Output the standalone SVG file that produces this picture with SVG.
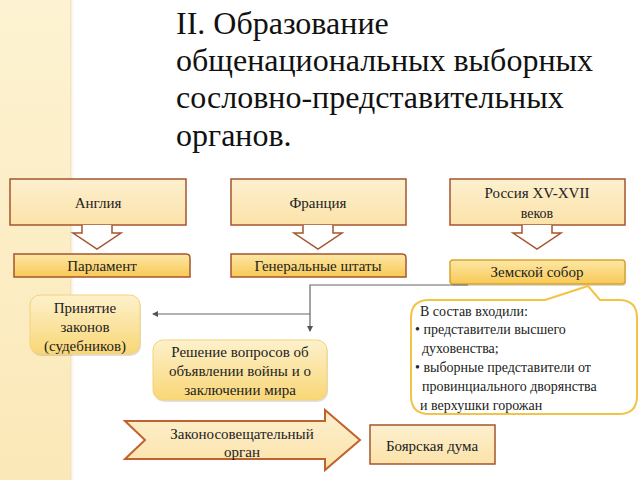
<svg xmlns="http://www.w3.org/2000/svg" width="640" height="480" viewBox="0 0 640 480">
<defs>
<linearGradient id="strip" x1="0" y1="0" x2="0" y2="1">
<stop offset="0" stop-color="#fdf3d2"/><stop offset="1" stop-color="#fbe8b8"/>
</linearGradient>
<linearGradient id="stripShade" x1="0" y1="0" x2="1" y2="0">
<stop offset="0" stop-color="#e8d6a6" stop-opacity="0.8"/><stop offset="1" stop-color="#ffffff" stop-opacity="0"/>
</linearGradient>
<linearGradient id="gold" x1="0" y1="0" x2="0" y2="1">
<stop offset="0" stop-color="#fde7a6"/><stop offset="1" stop-color="#f8c955"/>
</linearGradient>
<linearGradient id="soft" x1="0" y1="0" x2="0" y2="1">
<stop offset="0" stop-color="#fdf1cc"/><stop offset="1" stop-color="#f9d776"/>
</linearGradient>
<linearGradient id="light" x1="0" y1="0" x2="0" y2="1">
<stop offset="0" stop-color="#fdf0cf"/><stop offset="1" stop-color="#fbe2a8"/>
</linearGradient>
<marker id="ah" viewBox="0 0 6 6" refX="5" refY="3" markerWidth="6" markerHeight="6" orient="auto" markerUnits="userSpaceOnUse">
<path d="M0,0 L6,3 L0,6 z" fill="#555"/>
</marker>
</defs>
<rect x="0" y="0" width="640" height="480" fill="#fff"/>
<rect x="0" y="0" width="70" height="480" fill="url(#strip)"/>
<rect x="70" y="0" width="5" height="480" fill="url(#stripShade)"/>

<g id="title" fill="#111">
<text font-family="Liberation Serif" font-size="32" x="176" y="34">II. Образование</text>
<text font-family="Liberation Serif" font-size="32" x="176" y="71">общенациональных выборных</text>
<text font-family="Liberation Serif" font-size="32" x="176" y="108">сословно-представительных</text>
<text font-family="Liberation Serif" font-size="32" x="176" y="146">органов.</text>
</g>

<g id="england">
<rect x="10" y="179" width="176" height="46" fill="url(#light)" stroke="#a4552e" stroke-width="1.5"/>
<text font-family="Liberation Serif" font-size="15" fill="#222" text-anchor="middle" x="98" y="208">Англия</text>
<path d="M82,225 L82,233 L73,233 L97,249 L121,233 L112,233 L112,225" fill="#fff" stroke="#a4552e" stroke-width="1.5"/>
</g>
<g id="parliament">
<path d="M14,254 H186 Q190,254 190,258 V277 H14 Z" fill="url(#gold)" stroke="#a4552e" stroke-width="1.5"/>
<text font-family="Liberation Serif" font-size="15" fill="#222" text-anchor="middle" x="102" y="271">Парламент</text>
</g>

<g id="france">
<rect x="231" y="179" width="175" height="46" fill="url(#light)" stroke="#a4552e" stroke-width="1.5"/>
<text font-family="Liberation Serif" font-size="15" fill="#222" text-anchor="middle" x="318" y="208">Франция</text>
<path d="M303,225 L303,233 L294,233 L318,249 L342,233 L333,233 L333,225" fill="#fff" stroke="#a4552e" stroke-width="1.5"/>
</g>
<g id="estates">
<path d="M231,254 H402 Q406,254 406,258 V277 H231 Z" fill="url(#gold)" stroke="#a4552e" stroke-width="1.5"/>
<text font-family="Liberation Serif" font-size="15" fill="#222" text-anchor="middle" x="318" y="271">Генеральные штаты</text>
</g>

<g id="russia">
<rect x="450" y="179" width="175" height="46" fill="url(#light)" stroke="#a4552e" stroke-width="1.5"/>
<text font-family="Liberation Serif" font-size="15" fill="#222" text-anchor="middle" x="537" y="198">Россия XV-XVII</text>
<text font-family="Liberation Serif" font-size="14" fill="#222" text-anchor="middle" x="537" y="218">веков</text>
<path d="M522,225 L522,233 L513,233 L537,249 L561,233 L552,233 L552,225" fill="#fff" stroke="#a4552e" stroke-width="1.5"/>
</g>
<g id="zemsky">
<rect x="451" y="262" width="175" height="24" rx="3" fill="#000" opacity="0.15"/>
<rect x="450" y="260" width="175" height="24" rx="3" fill="url(#gold)" stroke="#d9a42c" stroke-width="1.5"/>
<text font-family="Liberation Serif" font-size="15" fill="#222" text-anchor="middle" x="537" y="277">Земской собор</text>
</g>

<g id="connectors" fill="none" stroke="#666" stroke-width="1.2">
<path d="M468,285 H310 V331" marker-end="url(#ah)"/>
<path d="M310,314 H153" marker-end="url(#ah)"/>
</g>

<g id="laws">
<rect x="31" y="297" width="110" height="59" rx="10" fill="#000" opacity="0.12"/>
<rect x="30" y="295" width="110" height="59" rx="10" fill="url(#soft)" stroke="#f3d27a" stroke-width="1"/>
<text font-family="Liberation Serif" font-size="15" fill="#222" text-anchor="middle" x="85" y="313">Принятие</text>
<text font-family="Liberation Serif" font-size="15" fill="#222" text-anchor="middle" x="85" y="332">законов</text>
<text font-family="Liberation Serif" font-size="15" fill="#222" text-anchor="middle" x="85" y="351">(судебников)</text>
</g>

<g id="war">
<rect x="154" y="342" width="174" height="60" rx="10" fill="#000" opacity="0.12"/>
<rect x="153" y="340" width="174" height="60" rx="10" fill="url(#soft)" stroke="#f3d27a" stroke-width="1"/>
<text font-family="Liberation Serif" font-size="15" fill="#222" text-anchor="middle" x="240" y="357">Решение вопросов об</text>
<text font-family="Liberation Serif" font-size="15" fill="#222" text-anchor="middle" x="240" y="376">объявлении войны и о</text>
<text font-family="Liberation Serif" font-size="15" fill="#222" text-anchor="middle" x="240" y="395">заключении мира</text>
</g>

<g id="advisory">
<path d="M125,421 H325 V410 L360,440 L325,470 V459 H125 L145,440 Z" fill="url(#light)" stroke="#c0622c" stroke-width="2"/>
<text font-family="Liberation Serif" font-size="15" fill="#222" text-anchor="middle" x="242" y="439">Законосовещательный</text>
<text font-family="Liberation Serif" font-size="15" fill="#222" text-anchor="middle" x="242" y="457">орган</text>
</g>

<g id="duma">
<rect x="370" y="425" width="125" height="39" fill="url(#light)" stroke="#a4552e" stroke-width="1.5"/>
<text font-family="Liberation Serif" font-size="15" fill="#222" text-anchor="middle" x="432" y="451">Боярская дума</text>
</g>

<g id="callout">
<path d="M429,300 H545 L588,286 L600,300 H619 Q637,300 637,318 V396 Q637,414 619,414 H429 Q411,414 411,396 V318 Q411,300 429,300 Z" fill="#fff" stroke="#f2c345" stroke-width="2"/>
<text font-family="Liberation Serif" font-size="14" fill="#222" x="420" y="316">В состав входили:</text>
<text font-family="Liberation Serif" font-size="14" fill="#222" x="415" y="334">• представители высшего</text>
<text font-family="Liberation Serif" font-size="14" fill="#222" x="422" y="353">духовенства;</text>
<text font-family="Liberation Serif" font-size="14" fill="#222" x="415" y="372">• выборные представители от</text>
<text font-family="Liberation Serif" font-size="14" fill="#222" x="422" y="391">провинциального дворянства</text>
<text font-family="Liberation Serif" font-size="14" fill="#222" x="420" y="410">и верхушки горожан</text>
</g>
</svg>
